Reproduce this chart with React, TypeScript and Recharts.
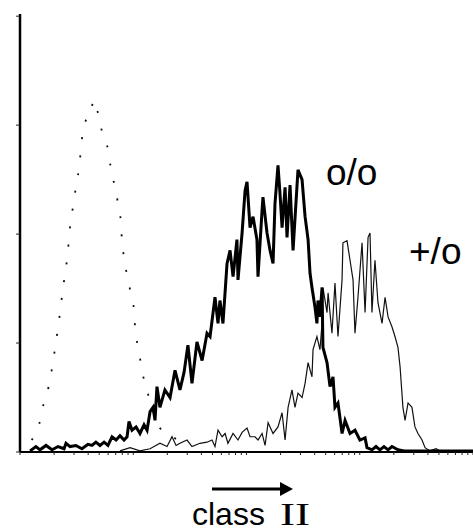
import { LineChart, Line, XAxis, YAxis } from 'recharts'

// channel (256 ch over 4 log decades) / events per channel
const controlCh = [6.6, 10.9, 13.2, 16.2, 18.1, 19.8, 21.3, 22.8, 24.1, 25.6, 27.0, 27.9, 29.4, 30.9, 32.6, 33.9, 34.9, 37.1, 40.0, 41.4, 43.3, 45.2, 47.5, 49.7, 51.3, 53.5, 55.2, 56.9, 57.6, 58.9, 60.3, 62.2, 64.3, 65.0, 66.7, 68.4, 70.2, 72.2, 79.1, 86.3, 95]
const controlCounts = [11, 26, 43, 60, 77, 95, 112, 130, 148, 165, 183, 201, 219, 236, 252, 269, 286, 304, 309, 323, 316, 302, 287, 278, 261, 244, 230, 213, 195, 177, 164, 149, 132, 115, 96, 81, 65, 54, 22, 14, 4]

const ooCh = [5.7, 9.0, 11.3, 14.7, 18.1, 21.5, 24.9, 26.0, 28.3, 31.6, 35.0, 38.4, 40.7, 42.9, 45.2, 47.5, 49.7, 52.0, 54.3, 56.5, 58.8, 60.5, 61.6, 63.3, 65.6, 67.8, 70.1, 71.8, 73.5, 75.2, 76.3, 77.4, 79.1, 81.9, 84.8, 87.6, 90.4, 92.7, 94.9, 97.2, 100.0, 102.9, 105.7, 107.4, 110.2, 111.9, 113.0, 114.7, 117.0, 118.7, 120.4, 122.6, 123.2, 125.5, 127.2, 128.3, 130.0, 131.7, 133.9, 134.5, 136.8, 137.3, 139.6, 141.3, 143.0, 144.1, 145.8, 146.9, 148.1, 149.8, 150.9, 152.6, 154.3, 157.1, 159.4, 161.1, 162.8, 163.9, 165.0, 166.7, 167.8, 168.4, 169.5, 170.7, 171.2, 173.5, 175.2, 176.9, 178.0, 179.7, 182.0, 183.7, 186.5, 189.3, 192.1, 195.0, 196.1, 198.9, 201.2, 203.4, 205.7, 208.0, 210.2, 213.6, 217.0, 256]
const ooCounts = [1, 5, 2, 6, 2, 5, 3, 8, 5, 6, 3, 7, 6, 9, 6, 9, 6, 14, 11, 15, 11, 14, 28, 20, 23, 17, 25, 20, 37, 41, 29, 60, 41, 57, 50, 75, 57, 73, 98, 63, 101, 84, 109, 106, 142, 118, 139, 118, 173, 185, 161, 195, 158, 201, 240, 248, 206, 216, 195, 161, 222, 234, 201, 185, 173, 228, 263, 238, 206, 243, 197, 245, 185, 259, 250, 216, 195, 164, 151, 133, 118, 139, 124, 151, 96, 82, 60, 69, 41, 45, 17, 29, 17, 20, 11, 13, 4, 2, 5, 2, 5, 2, 5, 2, 1, 1]

const poCh = [56.5, 62.2, 67.8, 73.5, 79.1, 83.1, 85.9, 88.2, 90.4, 94.4, 97.2, 101.7, 105.7, 108.5, 110.2, 111.9, 114.2, 115.9, 117.5, 120.4, 123.2, 125.5, 128.3, 130.0, 132.8, 134.5, 136.8, 138.5, 140.2, 143.0, 145.8, 148.1, 149.8, 151.5, 153.7, 155.4, 157.1, 159.4, 161.1, 162.8, 165.0, 165.6, 167.8, 169.5, 170.7, 171.2, 173.5, 174.1, 176.3, 178.0, 179.7, 182.0, 182.5, 184.8, 186.5, 188.2, 189.3, 191.0, 193.3, 195.0, 196.7, 197.8, 198.9, 200.6, 202.3, 204.6, 206.3, 208.0, 210.2, 211.9, 213.6, 214.8, 216.4, 217.6, 219.3, 221.5, 223.2, 224.9, 227.2, 228.9, 231.7, 235.1, 237.4, 256]
const poCounts = [1, 4, 1, 3, 8, 5, 14, 6, 8, 11, 5, 8, 9, 11, 5, 20, 14, 17, 8, 17, 11, 18, 22, 14, 14, 11, 17, 6, 27, 17, 23, 36, 11, 41, 57, 41, 54, 50, 63, 82, 69, 94, 106, 94, 118, 151, 128, 146, 109, 155, 106, 158, 192, 194, 176, 158, 109, 142, 192, 128, 197, 201, 128, 176, 137, 118, 142, 124, 115, 106, 96, 78, 41, 29, 45, 41, 23, 17, 11, 4, 1, 3, 1, 0]

const decades = [0, 1, 2, 3]
const minors = [1, 2, 3, 4, 5, 6, 7, 8, 9]
const yTicks = [0, 100, 200, 300, 400]

const CH_PER_DECADE = 64
const xTicks = [
  ...decades.flatMap((d) => minors.map((m) => CH_PER_DECADE * (d + Math.log10(m)))),
  CH_PER_DECADE * 4,
]

const toRows = (ch: number[], counts: number[]) => ch.map((c, i) => ({ ch: c, v: counts[i] }))

const control = toRows(controlCh, controlCounts)
const homo = toRows(ooCh, ooCounts)
const hetero = toRows(poCh, poCounts)

const W = 473
const H = 532

export default function App() {
  return (
    <div style={{ position: 'absolute', left: 0, top: 0, width: W, height: H, background: '#fff' }}>
      <LineChart width={W} height={H} margin={{ top: 14, right: 0, bottom: 70, left: 0 }}>
        <XAxis
          type="number"
          dataKey="ch"
          domain={[0, 256]}
          ticks={xTicks}
          height={10}
          tickSize={3}
          tickFormatter={() => ''}
          axisLine={{ stroke: '#000', strokeWidth: 2 }}
          tickLine={{ stroke: '#222', strokeWidth: 1 }}
          allowDataOverflow
        />
        <YAxis
          type="number"
          domain={[0, 402]}
          ticks={yTicks}
          width={20}
          tickSize={4}
          tickFormatter={() => ''}
          axisLine={{ stroke: '#000', strokeWidth: 2.5 }}
          tickLine={{ stroke: '#222', strokeWidth: 1 }}
        />
        <Line
          data={control}
          dataKey="v"
          type="monotone"
          stroke="#111"
          strokeWidth={1.8}
          strokeDasharray="2 16"
          dot={false}
          isAnimationActive={false}
        />
        <Line
          data={hetero}
          dataKey="v"
          type="linear"
          stroke="#111"
          strokeWidth={1.2}
          dot={false}
          isAnimationActive={false}
        />
        <Line
          data={homo}
          dataKey="v"
          type="linear"
          stroke="#000"
          strokeWidth={3}
          dot={false}
          isAnimationActive={false}
        />
      </LineChart>
      <svg
        width={W}
        height={H}
        style={{ position: 'absolute', left: 0, top: 0, pointerEvents: 'none' }}
      >
        <g fontFamily="'Liberation Sans', Arial, sans-serif" fill="#000">
          <text x={326} y={185} fontSize={37}>o/o</text>
          <text x={409} y={264} fontSize={37}>+/o</text>
          <text x={192} y={525} fontSize={32}>class</text>
          <text
            x={280}
            y={525}
            fontSize={32}
            fontFamily="'Liberation Serif', 'Times New Roman', serif"
            textLength={30}
            lengthAdjust="spacingAndGlyphs"
          >
            II
          </text>
        </g>
        <line x1={212} y1={489} x2={282} y2={489} stroke="#000" strokeWidth={3} />
        <polygon points="280,482 293,489 280,496" fill="#000" />
      </svg>
    </div>
  )
}
